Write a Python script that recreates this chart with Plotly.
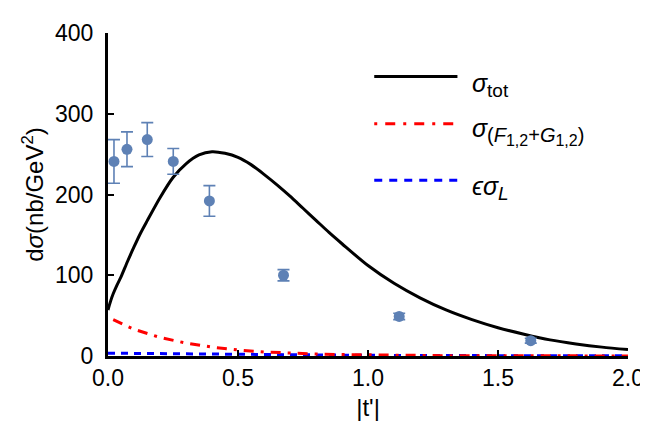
import plotly.graph_objects as go

# Data points (|t'|, dsigma, error)
t_data = [0.023, 0.073, 0.151, 0.251, 0.39, 0.675, 1.12, 1.626]
sig_data = [241, 256, 268, 241, 192, 100, 49, 19]
err_data = [27, 21.5, 21, 16, 19, 7, 4, 3]

# Theory curves
t_tot = [0.0, 0.01, 0.02, 0.035, 0.05, 0.075, 0.1, 0.125, 0.15, 0.2, 0.25, 0.3, 0.35,
         0.4, 0.45, 0.5, 0.55, 0.6, 0.65, 0.7, 0.75, 0.8, 0.85, 0.9, 1.0, 1.1, 1.2,
         1.3, 1.4, 1.5, 1.6, 1.7, 1.8, 1.9, 2.0]
sig_tot = [57, 68, 77, 88, 98, 117, 135, 152, 167, 196, 221, 238, 249,
           253, 251, 246, 237, 225, 212, 198, 183, 168, 153, 139, 112, 90, 72,
           57, 45, 35, 27, 20, 15, 11, 8]

t_fg = [0.02, 0.1, 0.2, 0.3, 0.4, 0.5, 0.6, 0.7, 0.8, 0.9, 1.0, 1.1, 1.2, 1.3,
        1.4, 1.6, 1.8, 2.0]
sig_fg = [45, 33, 23, 16, 11, 7.5, 5, 3.5, 2.5, 1.8, 1.3, 0.9, 0.6, 0.4,
          0.3, 0.2, 0.1, 0.1]

t_L = [0.0, 0.2, 0.4, 0.6, 0.8, 1.0, 1.2, 1.4, 1.6, 1.8, 2.0]
sig_L = [3.5, 2.8, 2.2, 1.6, 1.1, 0.8, 0.6, 0.4, 0.3, 0.25, 0.2]

x_ticks = [0.0, 0.5, 1.0, 1.5, 2.0]
x_ticklabels = ["0.0", "0.5", "1.0", "1.5", "2.0"]
y_ticks = [0, 100, 200, 300, 400]
y_ticklabels = ["0", "100", "200", "300", "400"]

legend_labels = [
    "<i>σ</i><sub><span style='font-size:19px'>tot</span></sub>",
    "<i>σ</i><sub><span style='font-size:20px'>(<i>F</i></span><sub><span style='font-size:16px'>1,2</span></sub>"
    "<span style='font-size:20px'>+<i>G</i></span><sub><span style='font-size:16px'>1,2</span></sub>"
    "<span style='font-size:20px'>)</span></sub>",
    "<i>ϵσ</i><sub><span style='font-size:19px'><i>L</i></span></sub>",
]

FONT = "Liberation Sans, Arial, sans-serif"

fig = go.Figure()
fig.add_trace(go.Scatter(x=t_L, y=sig_L, mode="lines",
                         line=dict(color="#0000FF", width=3, dash="7px,6px"),
                         showlegend=False))
fig.add_trace(go.Scatter(x=t_fg, y=sig_fg, mode="lines",
                         line=dict(color="#FF0000", width=3, dash="10px,7px,3px,7px"),
                         showlegend=False))
fig.add_trace(go.Scatter(x=t_tot, y=sig_tot, mode="lines", line_shape="spline",
                         line=dict(color="black", width=3, smoothing=0.8), showlegend=False))
fig.add_trace(go.Scatter(x=t_data, y=sig_data, mode="markers",
                         marker=dict(color="#5E81B5", size=11),
                         error_y=dict(type="data", array=err_data, color="#5E81B5",
                                      thickness=1.6, width=6),
                         showlegend=False))

# Manual legend (paper coordinates)
leg_y = [0.865, 0.719, 0.544]
leg_styles = [dict(color="black", width=3, dash="solid"),
              dict(color="#FF0000", width=3, dash="3px,8px,10px,8px"),
              dict(color="#0000FF", width=3, dash="8px,7px")]
for yy, st, lab in zip(leg_y, leg_styles, legend_labels):
    fig.add_shape(type="line", xref="paper", yref="paper",
                  x0=0.512, x1=0.672, y0=yy, y1=yy, line=st)
    fig.add_annotation(xref="paper", yref="paper", x=0.697, y=yy - 0.025,
                       text=lab, showarrow=False, xanchor="left", yanchor="middle",
                       font=dict(family=FONT, size=25, color="black"))

axis_common = dict(showline=True, linecolor="black", linewidth=3,
                   ticks="inside", tickcolor="black", tickwidth=2, ticklen=6,
                   showgrid=False, zeroline=False,
                   tickfont=dict(family=FONT, size=23, color="black"))

fig.update_layout(
    width=648, height=424,
    margin=dict(l=100, r=17, t=21, b=76),
    paper_bgcolor="white", plot_bgcolor="white",
    xaxis=dict(range=[0, 2.0], tickvals=x_ticks, ticktext=x_ticklabels,
               ticklabelstandoff=-1,
               title=dict(text="|t'|", font=dict(family=FONT, size=24, color="black"),
                          standoff=10),
               **axis_common),
    yaxis=dict(range=[0, 400], tickvals=y_ticks, ticktext=y_ticklabels,
               ticklabelstandoff=7,
               title=dict(text="d<i>σ</i>(nb/GeV<sup>2</sup>)",
                          font=dict(family=FONT, size=24, color="black"),
                          standoff=5),
               **axis_common),
    xaxis2=dict(overlaying="x", side="top", range=[0, 2.0], matches="x",
                showline=True, linecolor="black", linewidth=3,
                ticks="inside", tickcolor="black", tickwidth=2, ticklen=6,
                dtick=0.5, tick0=0, showticklabels=False, showgrid=False, zeroline=False,
                minor=dict(ticks="inside", dtick=0.1, ticklen=3, tickcolor="black", tickwidth=1.5)),
    yaxis2=dict(overlaying="y", side="right", range=[0, 400], matches="y",
                showline=True, linecolor="black", linewidth=3,
                ticks="inside", tickcolor="black", tickwidth=2, ticklen=6,
                dtick=100, tick0=0, showticklabels=False, showgrid=False, zeroline=False,
                minor=dict(ticks="inside", dtick=20, ticklen=3, tickcolor="black", tickwidth=1.5)),
)

fig.write_html("out.html")
